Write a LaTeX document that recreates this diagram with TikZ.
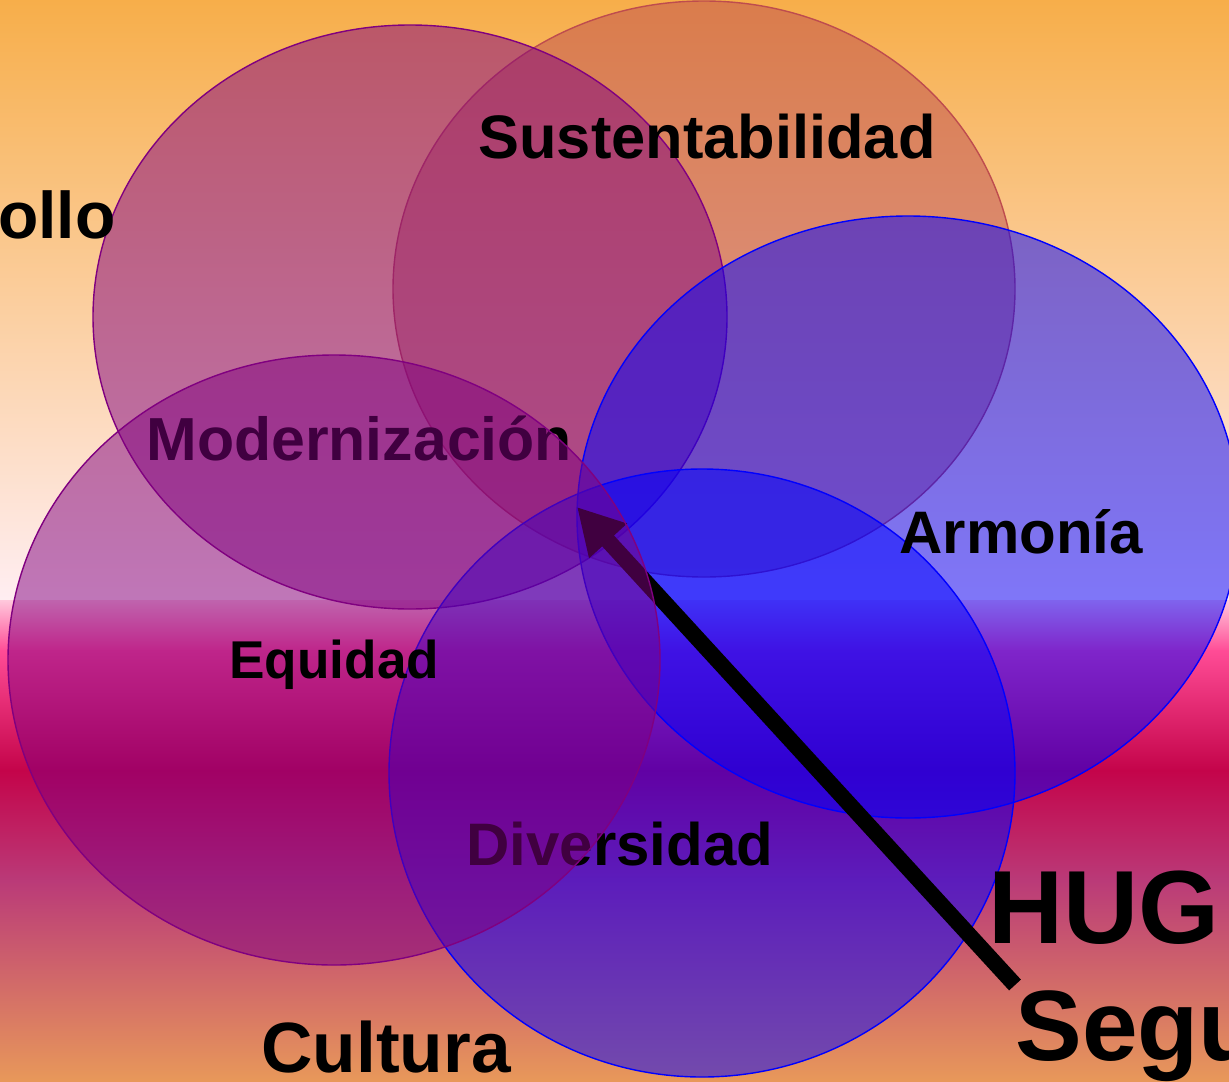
\documentclass[tikz,border=0pt]{standalone}
\usepackage{fontspec}
\setmainfont{Liberation Sans}
\usetikzlibrary{arrows.meta}
\definecolor{orangetop}{HTML}{F7AE4A}
\definecolor{palepink}{HTML}{FFEEF2}
\definecolor{rosepale}{HTML}{FFC8DC}
\definecolor{hotpink}{HTML}{FF4C96}
\definecolor{crimson}{HTML}{C4044A}
\definecolor{plum}{HTML}{BA3A78}
\definecolor{orangebot}{HTML}{E8985A}
\definecolor{violet}{HTML}{800080}
\definecolor{rust}{HTML}{BE4C4E}
\definecolor{royal}{HTML}{0000FF}
\tikzset{
  bubble/.style={fill opacity=.5, line width=.7pt},
  word/.style={inner sep=0pt, anchor=base west, font=\fontsize{#1}{#1}\selectfont\bfseries},
  pointer/.style={-{Triangle[length=23pt,width=24pt]}, line width=8pt}
}

\begin{document}
\begin{tikzpicture}[x=.5pt,y=-.5pt]
  \useasboundingbox (0,0) rectangle (1229,1081);
  \clip (0,0) rectangle (1229,1081);
  % background
  \shade[top color=orangetop,bottom color=palepink] (0,0) rectangle (1229,601);
  \shade[top color=rosepale,bottom color=hotpink] (0,600) rectangle (1229,651);
  \shade[top color=hotpink,bottom color=crimson] (0,650) rectangle (1229,771);
  \shade[top color=crimson,bottom color=plum] (0,770) rectangle (1229,881);
  \shade[top color=plum,bottom color=orangebot] (0,880) rectangle (1229,1081);
  % bubbles
  \draw[bubble,fill=rust,draw=rust] (704,289) ellipse [x radius=311, y radius=288];
  \draw[bubble,fill=violet,draw=violet] (410,317) ellipse [x radius=317, y radius=292];
  \draw[bubble,fill=royal,draw=royal] (908,517) ellipse [x radius=331, y radius=301];
  \draw[bubble,fill=royal,draw=royal] (702,773) ellipse [x radius=313, y radius=304];
  \node[word=30.4] (modern) at (146,460) {Modernización};
  \node[word=30] (divers) at (466,865) {Diversidad};
  \coordinate (tail) at (1015,985);
  \coordinate (tip) at (577,507);
  \draw[pointer] (tail) -- (tip);
  \draw[bubble,fill=violet,draw=violet] (334,660) ellipse [x radius=326, y radius=305];
  % labels
  \node[word=30.7] (sust) at (478,158) {Sustentabilidad};
  \node[word=33,anchor=base east] (desa) at (116,238) {ollo};
  \node[word=30] (armonia) at (899,553) {Armonía};
  \node[word=26.6] (equidad) at (229,678) {Equidad};
  \node[word=35.6] (cultura) at (261,1072) {Cultura};
  \node[word=52] (hug) at (988,943) {HUG};
  \node[word=50] (segu) at (1015,1060) {Segu};
\end{tikzpicture}
\end{document}
